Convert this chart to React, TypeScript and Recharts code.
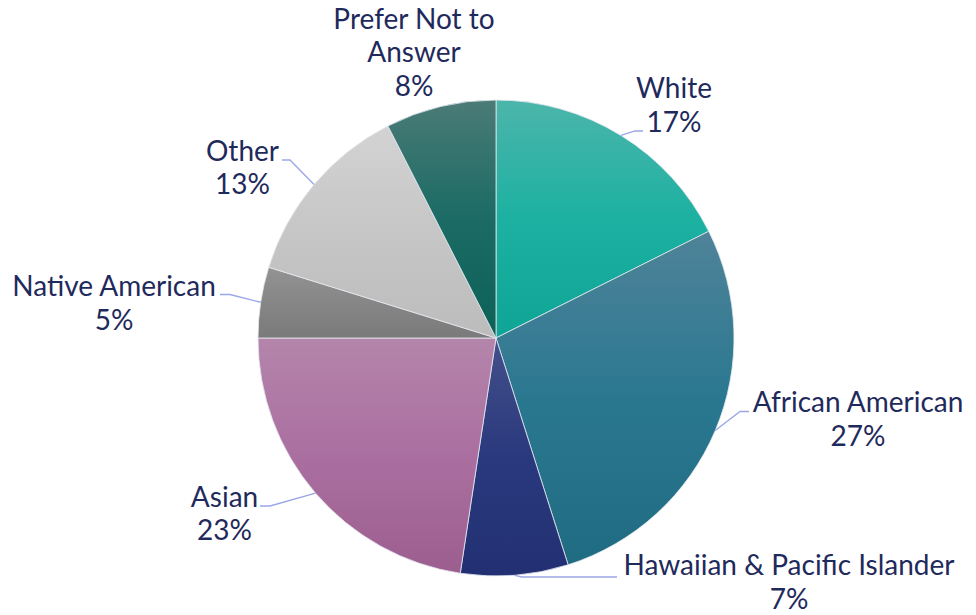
import React from 'react';
import { PieChart, Pie, Cell } from 'recharts';

// ---- data ----
const categories = [
  'White',
  'African American',
  'Hawaiian & Pacific Islander',
  'Asian',
  'Native American',
  'Other',
  'Prefer Not to Answer',
];
const shares = [17.6, 27.5, 7.3, 22.6, 4.8, 12.7, 7.5];
const percentLabels = ['17%', '27%', '7%', '23%', '5%', '13%', '8%'];

// ---- style / layout ----
const gradients = [
  ['#4cb5ab', '#1cb1a1', '#0fa596'],
  ['#4f8399', '#2a7890', '#1f6b82'],
  ['#44508b', '#2a397d', '#223073'],
  ['#b485ab', '#aa6fa0', '#9c5e8f'],
  ['#939393', '#868686', '#7a7a7a'],
  ['#d3d3d3', '#c6c6c6', '#bcbcbc'],
  ['#4b7b77', '#1b6b64', '#0c6157'],
];

const textLines: string[][] = [
  ['White'],
  ['African American'],
  ['Hawaiian & Pacific Islander'],
  ['Asian'],
  ['Native American'],
  ['Other'],
  ['Prefer Not to', 'Answer'],
];

type Layout = { x: number; y: number; leader: number[][] | null };
const labelLayout: Layout[] = [
  { x: 674, y: 98, leader: [[635, 131], [643, 131]] },
  { x: 858, y: 412, leader: [[740, 411.5], [749, 411.5]] },
  { x: 789, y: 575, leader: [[522, 577], [617, 577]] },
  { x: 224.5, y: 506.5, leader: [[270, 506], [260, 506]] },
  { x: 114, y: 296, leader: [[230, 294.5], [220, 294.5]] },
  { x: 242.5, y: 160.5, leader: [[290, 160], [282, 160]] },
  { x: 414, y: 28.5, leader: null },
];

const LINE_H = 33.5;
const TEXT_COLOR = '#1f2a5c';
const LEADER_COLOR = '#9aa6e6';
const RAD = Math.PI / 180;

const data = categories.map((name, i) => ({ name, value: shares[i] }));

const renderLabel = (props: any) => {
  const { cx, cy, midAngle, outerRadius, index } = props;
  const lay = labelLayout[index];
  const ex = cx + outerRadius * Math.cos(-midAngle * RAD);
  const ey = cy + outerRadius * Math.sin(-midAngle * RAD);
  const lines = [...textLines[index], percentLabels[index]];
  return (
    <g key={`lbl-${index}`}>
      {lay.leader && (
        <polyline
          points={[[ex, ey], ...lay.leader].map((p) => p.join(',')).join(' ')}
          fill="none"
          stroke={LEADER_COLOR}
          strokeWidth={1.3}
        />
      )}
      <text
        x={lay.x}
        y={lay.y}
        textAnchor="middle"
        fill={TEXT_COLOR}
        fontFamily="Lato, 'Open Sans', sans-serif"
        fontSize={28}
      >
        {lines.map((l, k) => (
          <tspan key={k} x={lay.x} y={lay.y + k * LINE_H}>
            {l}
          </tspan>
        ))}
      </text>
    </g>
  );
};

export default function App() {
  return (
    <div style={{ position: 'absolute', left: 0, top: 0, width: 976, height: 615, background: '#fff' }}>
      <PieChart width={976} height={615} margin={{ top: 0, right: 0, bottom: 0, left: 0 }}>
        <defs>
          {gradients.map((g, i) => (
            <linearGradient key={i} id={`grad${i}`} x1="0" y1="0" x2="0" y2="1">
              <stop offset="0%" stopColor={g[0]} />
              <stop offset="50%" stopColor={g[1]} />
              <stop offset="100%" stopColor={g[2]} />
            </linearGradient>
          ))}
        </defs>
        <Pie
          data={data}
          dataKey="value"
          nameKey="name"
          cx={496}
          cy={338}
          outerRadius={238}
          startAngle={90}
          endAngle={-270}
          stroke="#e6e8f0"
          strokeWidth={0.8}
          label={renderLabel}
          labelLine={false}
          isAnimationActive={false}
        >
          {data.map((d, i) => (
            <Cell key={d.name} fill={`url(#grad${i})`} />
          ))}
        </Pie>
      </PieChart>
    </div>
  );
}
